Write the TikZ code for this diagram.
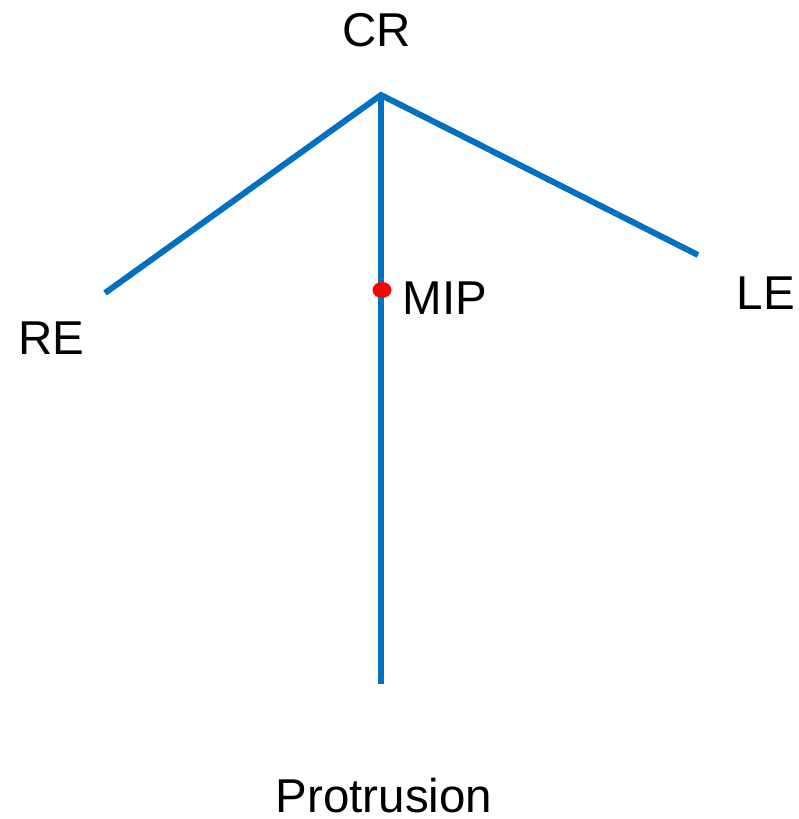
\documentclass[tikz,border=0pt]{standalone}
\usepackage{fontspec}
\setmainfont{Liberation Sans}
\definecolor{lineblue}{HTML}{0070C0}
\begin{document}
\begin{tikzpicture}[x=1pt,y=-1pt,
  lbl/.style={font=\fontsize{47.5}{52}\selectfont, inner sep=0pt},
  seg/.style={draw=lineblue, line width=6pt}]
\useasboundingbox (0,0) rectangle (798,819);
\coordinate (cr) at (381,95);
\coordinate (re) at (105,293);
\coordinate (le) at (698,255);
\coordinate (pr) at (381,684);
\draw[seg] (re) -- (cr) -- (le);
\draw[seg] (cr) -- (pr);
\coordinate (mip) at (382,290);
\fill[red] (mip) ellipse (9.5pt and 8pt);
\node[lbl] (tcr) at (377,30) {CR};
\node[lbl] (tre) at (51,338) {RE};
\node[lbl] (tle) at (766,293) {LE};
\node[lbl] (tmip) at (445,298) {MIP};
\node[lbl] (tpr) at (384,796) {Protrusion};
\end{tikzpicture}
\end{document}
